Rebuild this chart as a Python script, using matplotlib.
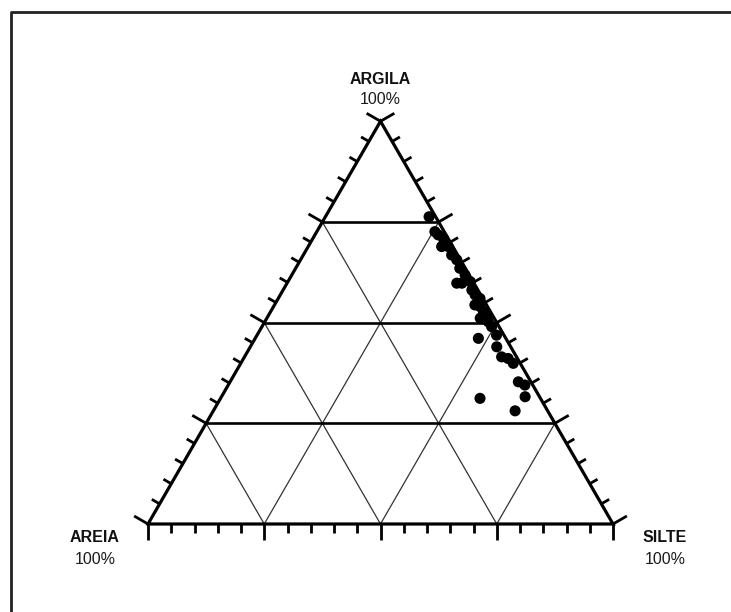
import numpy as np
import matplotlib
matplotlib.use("Agg")
import matplotlib.pyplot as plt
from matplotlib.lines import Line2D

# Sample composition (%)
argila = [76.3, 72.6, 71.8, 70.9, 68.9, 68.9, 66.8, 65.6, 63.5, 61.8, 59.8, 59.8,
          60.2, 58.1, 56.9, 56.0, 54.4, 54.0, 52.7, 51.1, 51.9, 50.2, 49.0, 46.1,
          46.9, 44.0, 41.5, 41.1, 39.9, 35.3, 34.5, 31.6, 31.2, 28.1]
silte = [22.3, 25.4, 26.5, 28.1, 28.7, 30.1, 31.9, 33.6, 35.3, 37.3, 36.5, 37.6,
         39.2, 40.6, 41.9, 43.4, 43.1, 44.4, 45.8, 45.9, 46.9, 48.1, 49.4, 48.0,
         51.5, 53.0, 55.3, 56.9, 58.6, 62.0, 63.8, 65.3, 55.8, 64.9]

vertex_labels = ["AREIA", "SILTE", "ARGILA"]
vertex_value = "100%"
grid_levels = [25, 50, 75]
minor_step = 5
major_step = 25

W, H, DPI = 731, 612, 100
fig = plt.figure(figsize=(W / DPI, H / DPI), dpi=DPI)
ax = fig.add_axes([0, 0, 1, 1])
ax.set_axis_off()

# pixel geometry: triangle base-left at (148, 524), side = 465 px
PX = 465.0
x0, ybase = 148.0, 524.0
ax.set_xlim(-x0 / PX, (W - x0) / PX)
ax.set_ylim(-(H - ybase) / PX, ybase / PX)

S3 = np.sqrt(3) / 2


def tern(clay, silt):
    clay = np.asarray(clay, float) / 100.0
    silt = np.asarray(silt, float) / 100.0
    return silt + clay / 2.0, clay * S3


# Grid: horizontal (constant clay) thick, diagonals thin
for g in grid_levels:
    xa, ya = tern([g, g], [0, 100 - g])
    ax.plot(xa, ya, color="black", lw=1.9, solid_capstyle="butt", zorder=2)
    # constant silt lines
    xb, yb = tern([0, 100 - g], [g, g])
    ax.plot(xb, yb, color="#333333", lw=0.9, zorder=1)
    # constant sand lines
    xc, yc = tern([0, 100 - g], [100 - g, 0])
    ax.plot(xc, yc, color="#333333", lw=0.9, zorder=1)

# Triangle edges
xt, yt = tern([0, 0, 100, 0], [0, 100, 0, 0])
ax.plot(xt, yt, color="black", lw=2.3, solid_joinstyle="miter", zorder=3)

# Ticks
minor_len = 9 / PX
major_len = 16 / PX
vals = np.arange(0, 101, minor_step)
edges = [
    (lambda t: (t, 0.0), (0.0, -1.0)),                         # bottom
    (lambda t: (0.5 * t, S3 * t), (-S3, 0.5)),                  # left
    (lambda t: (1 - 0.5 * t, S3 * t), (S3, 0.5)),               # right
]
for fpos, nrm in edges:
    for v in vals:
        px, py = fpos(v / 100.0)
        L = major_len if v % major_step == 0 else minor_len
        ax.plot([px, px + nrm[0] * L], [py, py + nrm[1] * L],
                color="black", lw=2.0, solid_capstyle="butt", zorder=3)

# Data points
xs, ys = tern(argila, silte)
ax.scatter(xs, ys, s=64, color="black", edgecolors="none", zorder=5)

# Vertex labels
fam = ["Liberation Sans", "DejaVu Sans"]
bold_kw = dict(fontsize=11.5, fontweight="bold", color="#111111", family=fam,
               ha="center", va="center")
reg_kw = dict(fontsize=11.5, color="#1a1a1a", family=fam, ha="center", va="center")


def px2d(xp, yp):
    return (xp - x0) / PX, (ybase - yp) / PX


for name, (lx, ly) in zip(vertex_labels, [(95, 538), (665, 538), (380, 79)]):
    tx, ty = px2d(lx, ly)
    ax.text(tx, ty, name, **bold_kw)
    tx2, ty2 = px2d(lx, ly + 21)
    ax.text(tx2, ty2, vertex_value, **reg_kw)

# Partial frame (top and left border)
fig.add_artist(Line2D([10.5 / W, 10.5 / W, 1.0], [0.0, 1 - 12 / H, 1 - 12 / H],
                      transform=fig.transFigure, color="#222222", lw=2.0))

fig.savefig("out.png", dpi=DPI)
